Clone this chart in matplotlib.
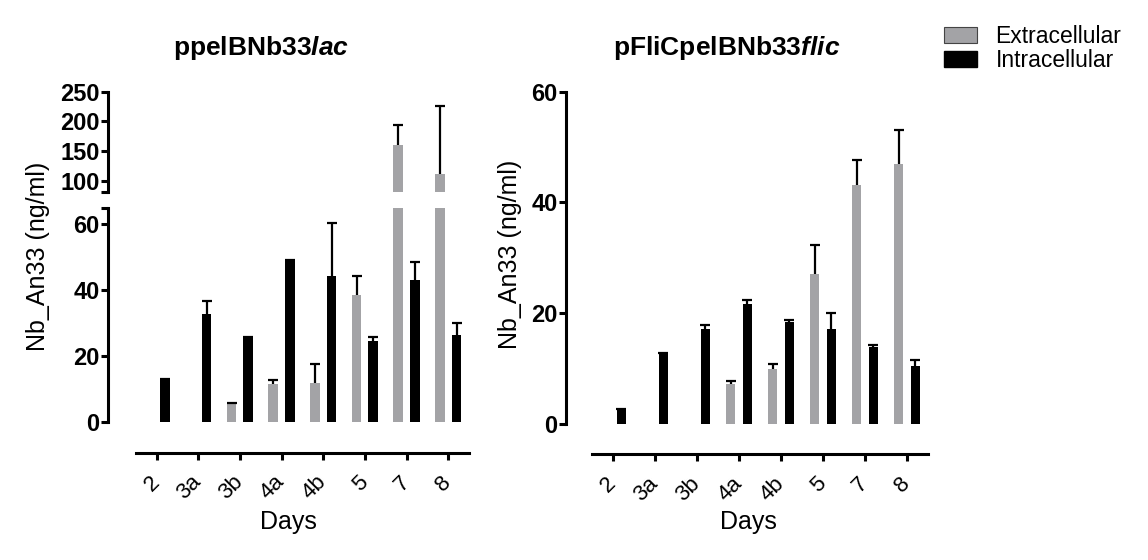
import numpy as np
import matplotlib
matplotlib.use('Agg')
import matplotlib.pyplot as plt
from matplotlib.patches import Patch

plt.rcParams['font.family'] = ['Liberation Sans', 'DejaVu Sans']
plt.rcParams['mathtext.fontset'] = 'custom'
plt.rcParams['mathtext.bf'] = 'Liberation Sans:bold'
plt.rcParams['mathtext.bfit'] = 'Liberation Sans:bold:italic'

# data (nan = no bar)
days = ['2', '3a', '3b', '4a', '4b', '5', '7', '8']

lac_extra = [np.nan, np.nan, 5.4, 11.6, 11.8, 38.7, 161, 112]
lac_extra_err = [np.nan, np.nan, 0.3, 1.2, 5.9, 5.6, 33.6, 114.6]
lac_intra = [12.8, 32.9, 25.6, 49.1, 44.5, 24.6, 43.0, 26.5]
lac_intra_err = [0.4, 3.9, 0.3, 0.0, 16.0, 1.2, 5.7, 3.5]

flic_extra = [np.nan, np.nan, np.nan, 7.2, 9.9, 27.1, 43.1, 46.9]
flic_extra_err = [np.nan, np.nan, np.nan, 0.6, 1.0, 5.3, 4.6, 6.1]
flic_intra = [2.65, 12.6, 17.1, 21.6, 18.4, 17.1, 13.9, 10.5]
flic_intra_err = [0.0, 0.2, 0.8, 0.8, 0.4, 3.0, 0.4, 1.0]

grey = '#a3a3a6'
x = np.arange(len(days))
w = 0.23
off = 0.2
lw = 2.2


def upper_err(ax, xs, ys, err):
    err = np.array(err, dtype=float)
    _, caps, _ = ax.errorbar(xs, ys, yerr=[np.zeros_like(err), err], fmt='none',
                             ecolor='black', elinewidth=1.6, capsize=3.5,
                             capthick=1.6, zorder=3)
    caps[0].set_visible(False)  # only the upper cap


def draw_bars(ax, extra, extra_err, intra, intra_err):
    extra = np.array(extra, dtype=float)
    intra = np.array(intra, dtype=float)
    ax.bar(x - off, extra, w, color=grey, zorder=2)
    ax.bar(x + off, intra, w, color='black', zorder=2)
    upper_err(ax, x - off, extra, extra_err)
    upper_err(ax, x + off, intra, intra_err)


def style(ax, left_out, bottom_out=None):
    ax.spines['top'].set_visible(False)
    ax.spines['right'].set_visible(False)
    ax.spines['left'].set_position(('outward', left_out))
    ax.spines['left'].set_linewidth(lw)
    ax.tick_params(axis='y', width=lw, length=5, labelsize=17, pad=1)
    for t in ax.get_yticklabels():
        t.set_fontweight('bold')
    if bottom_out is None:
        ax.spines['bottom'].set_visible(False)
        ax.tick_params(axis='x', bottom=False, labelbottom=False)
    else:
        ax.spines['bottom'].set_position(('outward', bottom_out))
        ax.spines['bottom'].set_linewidth(lw)
        ax.tick_params(axis='x', width=lw, length=5)
        ax.set_xticks(x)
        ax.set_xticklabels(days, rotation=45, ha='right', va='center',
                           rotation_mode='anchor', fontsize=16)
        ax.tick_params(axis='x', pad=14)
    ax.set_xlim(-0.5, 7.5)


fig = plt.figure(figsize=(11.48, 5.6), dpi=100)

# left panel, broken y axis
ax_lo = fig.add_axes([0.1182, 0.2464, 0.2904, 0.3821])
ax_hi = fig.add_axes([0.1182, 0.6577, 0.2904, 0.1786])
draw_bars(ax_lo, lac_extra, lac_extra_err, lac_intra, lac_intra_err)
draw_bars(ax_hi, lac_extra, lac_extra_err, lac_intra, lac_intra_err)
ax_lo.set_ylim(0, 65)
ax_lo.set_yticks([0, 20, 40, 60])
ax_lo.set_yticks([65], minor=True)
ax_hi.set_ylim(82, 250)
ax_hi.set_yticks([100, 150, 200, 250])
ax_hi.set_yticks([82], minor=True)
style(ax_lo, 20, 22)
style(ax_hi, 20)
for a in (ax_lo, ax_hi):
    a.tick_params(axis='y', which='minor', width=lw, length=5)
ax_lo.set_xlabel('Days', fontsize=18)
ax_lo.xaxis.set_label_coords(0.457, -0.467)
ax_lo.xaxis.label.set_va('center')

# right panel
ax_r = fig.add_axes([0.5157, 0.2429, 0.2927, 0.5934])
draw_bars(ax_r, flic_extra, flic_extra_err, flic_intra, flic_intra_err)
ax_r.set_ylim(0, 60)
ax_r.set_yticks([0, 20, 40, 60])
style(ax_r, 18.7, 21.6)
ax_r.set_xlabel('Days', fontsize=18)
ax_r.xaxis.set_label_coords(0.466, -0.295)
ax_r.xaxis.label.set_va('center')

fig.text(0.033, 0.543, 'Nb_An33 (ng/ml)', rotation=90, fontsize=18,
         ha='center', va='center')
fig.text(0.444, 0.545, 'Nb_An33 (ng/ml)', rotation=90, fontsize=18,
         ha='center', va='center')

fig.text(0.227, 0.915, r'$\mathbf{ppelBNb33}\mathbfit{lac}$', fontsize=19,
         ha='center', va='center')
fig.text(0.633, 0.915, r'$\mathbf{pFliCpelBNb33}\mathbfit{flic}$', fontsize=19,
         ha='center', va='center')

handles = [Patch(facecolor=grey, edgecolor='#444444', linewidth=0.8),
           Patch(facecolor='black', edgecolor='black')]
fig.legend(handles, ['Extracellular', 'Intracellular'], loc='upper left',
           bbox_to_anchor=(944 / 1148, 1 - 25 / 560), frameon=False,
           fontsize=16.5, handlelength=1.45, handleheight=0.68,
           handletextpad=0.8, labelspacing=0.05, borderpad=0, borderaxespad=0)

fig.savefig('out.png', dpi=100)
